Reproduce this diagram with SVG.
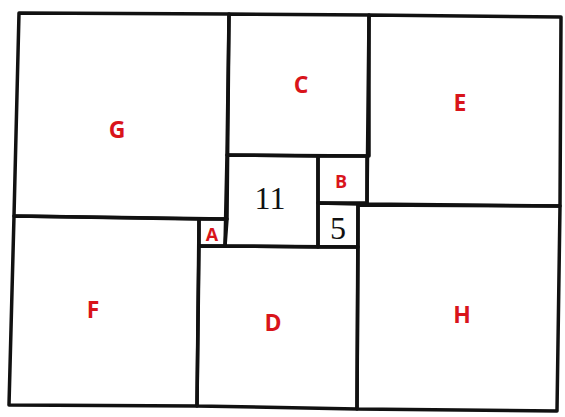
<svg xmlns="http://www.w3.org/2000/svg" width="565" height="417" viewBox="0 0 565 417">
<style>
.sq{fill:none;stroke:#111;stroke-width:3.5;stroke-linejoin:round}
.lb{font-family:"Open Sans","Liberation Sans",sans-serif;font-weight:bold;font-size:23px;fill:#d9141b;text-anchor:middle}
.sm{font-size:18px}
.num{font-family:"Liberation Serif",serif;font-size:32px;fill:#111;text-anchor:middle}
</style>
<rect width="565" height="417" fill="#fff"/>
<g id="G"><polygon class="sq" points="19,13 229,14 227,219 14,216"/><text class="lb" x="117" y="138">G</text></g>
<g id="C"><polygon class="sq" points="229,14 369,15 369,156 227,155"/><text class="lb" x="301" y="93">C</text></g>
<g id="E"><polygon class="sq" points="369,15 561,17 560,206 367,204"/><text class="lb" x="460" y="111">E</text></g>
<g id="sq11"><polygon class="sq" points="227,155 318,156 318,247 225,246"/><text class="num" x="270" y="209">11</text></g>
<g id="B"><polygon class="sq" points="318,156 367,156 367,203 318,203"/><text class="lb sm" x="341" y="188">B</text></g>
<g id="sq5"><polygon class="sq" points="318,203 358,204 358,247 318,247"/><text class="num" x="338" y="239">5</text></g>
<g id="A"><polygon class="sq" points="199,219 227,219 225,246 199,246"/><text class="lb sm" x="212" y="241">A</text></g>
<g id="F"><polygon class="sq" points="14,216 199,219 197,406 9,405"/><text class="lb" x="93" y="318">F</text></g>
<g id="D"><polygon class="sq" points="199,246 358,247 357,409 197,406"/><text class="lb" x="273" y="331">D</text></g>
<g id="H"><polygon class="sq" points="358,205 560,206 557,411 357,409"/><text class="lb" x="462" y="323">H</text></g>
<g id="connectors"></g>
</svg>
